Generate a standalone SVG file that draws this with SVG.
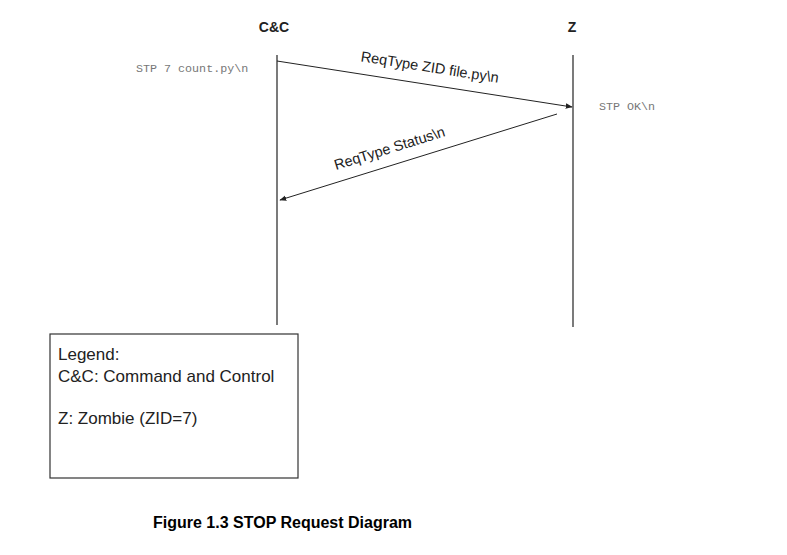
<svg xmlns="http://www.w3.org/2000/svg" width="787" height="555" viewBox="0 0 787 555">
<style>
.hdr{font-family:"Liberation Sans",Arial,sans-serif;font-weight:bold;font-size:14px;fill:#222;text-anchor:middle}
.lbl{font-family:"Liberation Sans",Arial,sans-serif;font-size:14.5px;fill:#222;text-anchor:middle}
.mono{font-family:"Liberation Mono","Courier New",monospace;font-size:11.7px;fill:#777}
.leg{font-family:"Liberation Sans",Arial,sans-serif;font-size:17px;fill:#222}
.cap{font-family:"Liberation Sans",Arial,sans-serif;font-weight:bold;font-size:16px;fill:#000}
.life{stroke:#222;stroke-width:1.2;fill:none}
.msg{stroke:#222;stroke-width:1;fill:none;marker-end:url(#ah)}
</style>
<defs>
<marker id="ah" viewBox="0 0 10 10" refX="9" refY="5" markerWidth="7" markerHeight="7" orient="auto" markerUnits="userSpaceOnUse">
<path d="M0,1 L10,5 L0,9 z" fill="#222"/>
</marker>
</defs>
<rect width="787" height="555" fill="#fff"/>
<g id="cc">
<text class="hdr" x="274" y="32">C&amp;C</text>
<line class="life" x1="277" y1="55" x2="277" y2="325"/>
</g>
<g id="z">
<text class="hdr" x="572" y="32">Z</text>
<line class="life" x1="573" y1="55" x2="573" y2="327"/>
</g>
<g id="connectors">
<line class="msg" x1="277" y1="61" x2="572" y2="107"/>
<text class="lbl" transform="translate(429,72) rotate(8.9)">ReqType ZID file.py\n</text>
<line class="msg" x1="557" y1="114" x2="280" y2="200"/>
<text class="lbl" transform="translate(391,153) rotate(-17.2)">ReqType Status\n</text>
</g>
<g id="notes">
<text class="mono" x="136" y="72">STP 7 count.py\n</text>
<text class="mono" x="599" y="110">STP OK\n</text>
</g>
<g id="legend">
<rect x="50" y="334" width="248" height="144" fill="#fff" stroke="#333" stroke-width="1.2"/>
<text class="leg" x="58" y="360">Legend:</text>
<text class="leg" x="58" y="382">C&amp;C: Command and Control</text>
<text class="leg" x="58" y="424">Z: Zombie (ZID=7)</text>
</g>
<text class="cap" x="153" y="528">Figure 1.3 STOP Request Diagram</text>
</svg>
